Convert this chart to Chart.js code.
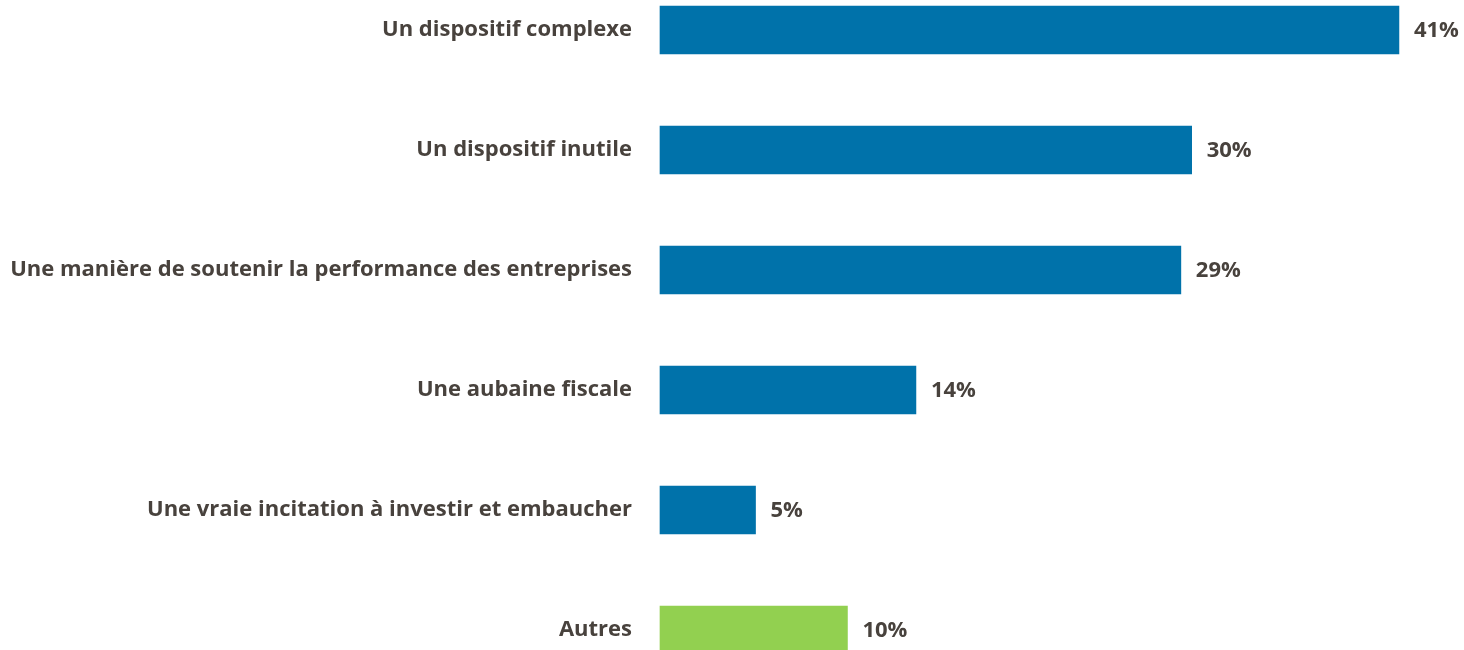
<!DOCTYPE html>
<html>
<head>
<meta charset="utf-8">
<script src="https://cdn.jsdelivr.net/npm/chart.js@4"></script>
<style>
  html, body { margin: 0; padding: 0; background: #fff; }
  #wrap { width: 1464px; height: 650px; }
</style>
</head>
<body>
<div id="wrap"><canvas id="chart" width="1464" height="650"></canvas></div>
<script>
// --- data ---
const categories = [
    "Un dispositif complexe",
    "Un dispositif inutile",
    "Une manière de soutenir la performance des entreprises",
    "Une aubaine fiscale",
    "Une vraie incitation à investir et embaucher",
    "Autres"
];
const values = [41.0, 29.5, 28.9, 14.2, 5.3, 10.4];
const valueLabels = ["41%", "30%", "29%", "14%", "5%", "10%"];
const barColors = ["#0072AA", "#0072AA", "#0072AA", "#0072AA", "#0072AA", "#92D050"];

const textColor = "#48423D";
const labelFont = { family: "'Open Sans'", size: 22, weight: "bold" };

// draws the % next to each bar
const valueLabelPlugin = {
    id: 'valueLabels',
    afterDatasetsDraw(chart) {
        const ctx = chart.ctx;
        const meta = chart.getDatasetMeta(0);
        ctx.save();
        ctx.font = `bold ${labelFont.size}px ${labelFont.family}`;
        ctx.fillStyle = textColor;
        ctx.textAlign = 'left';
        ctx.textBaseline = 'middle';
        meta.data.forEach((bar, i) => {
            ctx.fillText(valueLabels[i], bar.x + 15, bar.y + 1);
        });
        ctx.restore();
    }
};

new Chart(document.getElementById('chart'), {
    type: 'bar',
    data: {
        labels: categories,
        datasets: [{
            data: values,
            backgroundColor: barColors,
            barThickness: 48,
            clip: false
        }]
    },
    options: {
        indexAxis: 'y',
        responsive: false,
        animation: false,
        layout: { padding: { top: 30, bottom: 20, left: 0, right: 11 } },
        plugins: { legend: { display: false }, tooltip: { enabled: false } },
        scales: {
            x: {
                display: false,
                min: 0,
                max: 44
            },
            y: {
                offset: false,
                grid: { display: false, drawTicks: false },
                border: { display: false },
                ticks: { color: textColor, font: labelFont, padding: 28 },
                afterFit(scale) {
                    scale.width = 660;
                    scale.paddingTop = 0;
                    scale.paddingBottom = 0;
                }
            }
        }
    },
    plugins: [valueLabelPlugin]
});
</script>
</body>
</html>
